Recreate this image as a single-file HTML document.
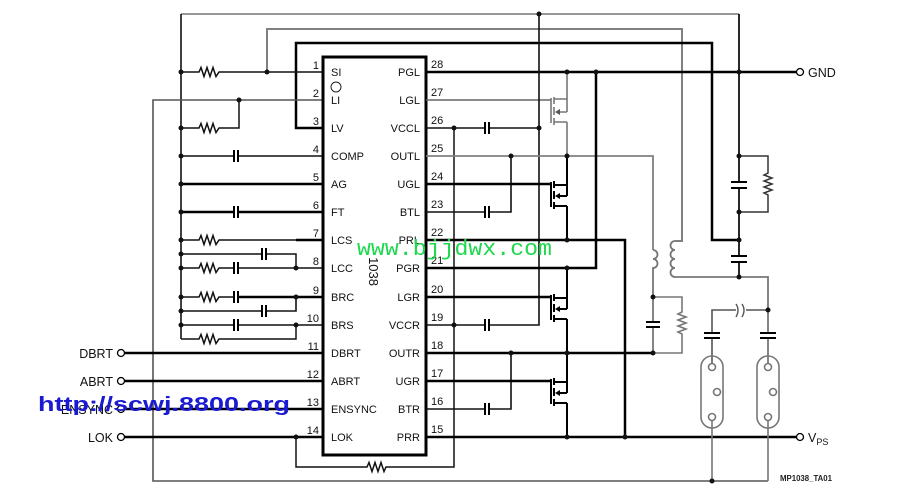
<!DOCTYPE html>
<html><head><meta charset="utf-8"><style>
html,body{margin:0;padding:0;background:#fff;}
svg{display:block;}
</style></head><body>
<svg width="909" height="496" viewBox="0 0 909 496" xmlns="http://www.w3.org/2000/svg" font-family="'Liberation Sans', Arial, sans-serif">
<rect width="909" height="496" fill="#fff"/>
<g fill="none" stroke-linejoin="miter">
<!-- top gray / black loops -->
<path d="M181,14 H739" stroke="#777" stroke-width="1.6"/>
<path d="M267,72 V29 H682 V241 H675" stroke="#808080" stroke-width="2"/>
<path d="M323,128 H296 V43 H712 V240 H739" stroke="#000" stroke-width="2.5"/>
<!-- left bus -->
<path d="M181,14 V339" stroke="#111" stroke-width="1.6"/>
<!-- pin 1 -->
<path d="M181,72 H199 l2,-4.5 l3,9 l3,-9 l3,9 l3,-9 l3,9 l3,-4.5 H323" stroke="#111" stroke-width="1.5"/>
<!-- pin 2 -->
<path d="M323,100 H153 V481 H768" stroke="#555" stroke-width="1.6"/>
<!-- pin 3 -->
<path d="M181,128 H199 l2,-4.5 l3,9 l3,-9 l3,9 l3,-9 l3,9 l3,-4.5 H239 V100" stroke="#111" stroke-width="1.5"/>
<!-- pin 4 -->
<path d="M181,156 H234 M238,156 H323" stroke="#111" stroke-width="1.5"/>
<path d="M234,150 V162 M238,150 V162" stroke="#000" stroke-width="2"/>
<!-- pin 5 -->
<path d="M181,184 H323" stroke="#000" stroke-width="2.5"/>
<!-- pin 6 -->
<path d="M181,212 H234 M238,212 H323" stroke="#000" stroke-width="2.5"/>
<path d="M234,206 V218 M238,206 V218" stroke="#000" stroke-width="2"/>
<!-- pin 7 -->
<path d="M181,240 H199 l2,-4.5 l3,9 l3,-9 l3,9 l3,-9 l3,9 l3,-4.5 H296" stroke="#111" stroke-width="1.5"/>
<path d="M296,240 H323" stroke="#000" stroke-width="2.5"/>
<!-- y254 -->
<path d="M181,254 H262 M266,254 H296 V268" stroke="#111" stroke-width="1.5"/>
<path d="M262,248 V260 M266,248 V260" stroke="#000" stroke-width="2"/>
<!-- pin 8 -->
<path d="M181,268 H199 l2,-4.5 l3,9 l3,-9 l3,9 l3,-9 l3,9 l3,-4.5 H234 M238,268 H323" stroke="#111" stroke-width="1.5"/>
<path d="M234,262 V274 M238,262 V274" stroke="#000" stroke-width="2"/>
<!-- pin 9 -->
<path d="M181,297 H199 l2,-4.5 l3,9 l3,-9 l3,9 l3,-9 l3,9 l3,-4.5 H234" stroke="#111" stroke-width="1.5"/>
<path d="M238,297 H323" stroke="#000" stroke-width="2.5"/>
<path d="M234,291 V303 M238,291 V303" stroke="#000" stroke-width="2"/>
<!-- y311 -->
<path d="M181,311 H262 M266,311 H296 V297" stroke="#111" stroke-width="1.6"/>
<path d="M262,305 V317 M266,305 V317" stroke="#000" stroke-width="2"/>
<!-- pin 10 -->
<path d="M181,325 H234 M238,325 H323" stroke="#111" stroke-width="1.6"/>
<path d="M234,319 V331 M238,319 V331" stroke="#000" stroke-width="2"/>
<!-- y339 -->
<path d="M181,339 H199 l2,-4.5 l3,9 l3,-9 l3,9 l3,-9 l3,9 l3,-4.5 H296 V325" stroke="#111" stroke-width="1.5"/>
<!-- pins 11-14 -->
<path d="M124.5,353 H323 M124.5,381 H323 M124.5,409 H323 M124.5,437 H323" stroke="#000" stroke-width="2.5"/>
<!-- LOK loop -->
<path d="M296,437 V467 H367 l2,-4.5 l3,9 l3,-9 l3,9 l3,-9 l3,9 l2,-4.5 H454 V128" stroke="#111" stroke-width="1.5"/>
<!-- IC -->
<rect x="323" y="57" width="103" height="398" stroke="#000" stroke-width="3"/>
<circle cx="336" cy="87" r="5" stroke="#222" stroke-width="1"/>

<!-- right side -->
<path d="M426,72 H796.5" stroke="#000" stroke-width="2.5"/>
<path d="M426,100 H551" stroke="#666" stroke-width="1.5"/>
<path d="M426,128 H485 M489,128 H539" stroke="#111" stroke-width="1.6"/>
<path d="M485,122 V134 M489,122 V134" stroke="#000" stroke-width="2"/>
<path d="M539,14 V325 H489 M485,325 H426" stroke="#111" stroke-width="1.6"/>
<path d="M485,319 V331 M489,319 V331" stroke="#000" stroke-width="2"/>
<path d="M426,156 H653 V250" stroke="#808080" stroke-width="1.8"/>
<path d="M511,156 V212 H489 M485,212 H426" stroke="#111" stroke-width="1.6"/>
<path d="M485,206 V218 M489,206 V218" stroke="#000" stroke-width="2"/>
<path d="M426,184 H551" stroke="#000" stroke-width="2.5"/>
<path d="M426,240 H625 V437" stroke="#000" stroke-width="2.5"/>
<path d="M426,268 H596 V72" stroke="#000" stroke-width="2.5"/>
<path d="M426,297 H551" stroke="#000" stroke-width="2.5"/>
<path d="M426,353 H653" stroke="#000" stroke-width="2.5"/>
<path d="M511,353 V409 H489 M485,409 H426" stroke="#111" stroke-width="1.6"/>
<path d="M485,403 V415 M489,403 V415" stroke="#000" stroke-width="2"/>
<path d="M426,381 H551" stroke="#000" stroke-width="2.5"/>
<path d="M426,437 H796.5" stroke="#000" stroke-width="2.5"/>

<!-- MOSFETs -->
<g stroke="#777" stroke-width="1.6">
<path d="M551,98 V123 M554,97 V104 M554,107 V115 M554,118 V125 M554,99 H567 M554,122 H567 M567,112 H557 M567,72 V112 M567,122 V156"/>
</g>
<g stroke="#000" stroke-width="2">
<path d="M551,182 V207 M554,181 V188 M554,191 V199 M554,202 V209 M554,185 H567 M554,206 H567 M567,196 H557 M567,156 V196 M567,206 V240"/>
<path d="M551,295 V320 M554,294 V301 M554,304 V312 M554,315 V322 M554,298 H567 M554,319 H567 M567,309 H557 M567,268 V309 M567,319 V353"/>
<path d="M551,379 V404 M554,378 V385 M554,388 V396 M554,399 V406 M554,382 H567 M554,403 H567 M567,393 H557 M567,353 V393 M567,403 V437"/>
</g>

<!-- transformer primary -->
<path d="M653,250 a4.5,4.5 0 0 1 0,9 a4.5,4.5 0 0 1 0,9 V322 M653,327 V353" stroke="#777" stroke-width="1.8"/>
<path d="M646,322 H660 M646,327 H660" stroke="#000" stroke-width="2"/>
<path d="M653,297 H682 V312 l-4,2 l8,3 l-8,3 l8,3 l-8,3 l8,3 l-8,3 l4,2 V353 H653" stroke="#777" stroke-width="1.6"/>
<!-- transformer secondary -->
<path d="M675,241 a4.5,4.5 0 0 0 0,9 a4.5,4.5 0 0 0 0,9 a4.5,4.5 0 0 0 0,9 a4.5,4.5 0 0 0 0,9 H768 V333 M768,338 V363.5" stroke="#777" stroke-width="1.8"/>

<!-- right vertical 739 -->
<path d="M739,14 V182 M739,188 V256 M739,262 V277" stroke="#111" stroke-width="1.8"/>
<path d="M731,182 H747 M731,188 H747 M731,256 H747 M731,262 H747" stroke="#000" stroke-width="2"/>
<path d="M739,156 H768 V173 l-4,2 l8,3 l-8,3 l8,3 l-8,3 l8,3 l-8,3 l4,2 V212 H739" stroke="#333" stroke-width="1.5"/>

<!-- crossover and lamp caps -->
<path d="M768,310 H746 M736,310 H712 V333 M712,338 V363.5" stroke="#555" stroke-width="1.6"/>
<path d="M736,304 q4,6 0,13 M742,304 q4,6 0,13" stroke="#555" stroke-width="1.4"/>
<path d="M704,333 H720 M704,338 H720 M760,333 H776 M760,338 H776" stroke="#000" stroke-width="2"/>

<!-- lamps -->
<g stroke="#777" stroke-width="1.6">
<rect x="701" y="356" width="22" height="72" rx="11"/>
<rect x="757" y="356" width="22" height="72" rx="11"/>
<circle cx="712" cy="367" r="3.5"/><circle cx="717" cy="392" r="3.5"/><circle cx="712" cy="417" r="3.5"/>
<circle cx="768" cy="367" r="3.5"/><circle cx="773" cy="392" r="3.5"/><circle cx="768" cy="417" r="3.5"/>
<path d="M712,420.5 V481 M768,420.5 V481"/>
</g>

<!-- terminals -->
<g stroke="#000" stroke-width="1.3" fill="#fff">
<circle cx="121" cy="353" r="3.5"/><circle cx="121" cy="381" r="3.5"/><circle cx="121" cy="409" r="3.5"/><circle cx="121" cy="437" r="3.5"/>
<circle cx="800" cy="72" r="3.5"/><circle cx="800" cy="437" r="3.5"/>
</g>
</g>

<!-- arrowheads -->
<g fill="#000">
<polygon points="555,196 560,193 560,199"/>
<polygon points="555,309 560,306 560,312"/>
<polygon points="555,393 560,390 560,396"/>
</g>
<polygon points="555,112 560,109 560,115" fill="#555"/>

<!-- dots -->
<g fill="#111">
<circle cx="181" cy="72" r="2.5"/><circle cx="267" cy="72" r="2.5"/><circle cx="181" cy="128" r="2.5"/><circle cx="239" cy="100" r="2.5"/>
<circle cx="181" cy="156" r="2.5"/><circle cx="181" cy="184" r="2.5"/><circle cx="181" cy="212" r="2.5"/><circle cx="181" cy="240" r="2.5"/>
<circle cx="181" cy="254" r="2.5"/><circle cx="181" cy="268" r="2.5"/><circle cx="296" cy="268" r="2.5"/><circle cx="181" cy="297" r="2.5"/>
<circle cx="296" cy="297" r="2.5"/><circle cx="181" cy="311" r="2.5"/><circle cx="181" cy="325" r="2.5"/><circle cx="296" cy="325" r="2.5"/>
<circle cx="296" cy="437" r="2.5"/><circle cx="539" cy="14" r="2.5"/><circle cx="454" cy="128" r="2.5"/><circle cx="539" cy="128" r="2.5"/>
<circle cx="567" cy="72" r="2.5"/><circle cx="596" cy="72" r="2.5"/><circle cx="739" cy="72" r="2.5"/><circle cx="511" cy="156" r="2.5"/>
<circle cx="567" cy="156" r="2.5"/><circle cx="567" cy="240" r="2.5"/><circle cx="567" cy="268" r="2.5"/><circle cx="454" cy="325" r="2.5"/>
<circle cx="511" cy="353" r="2.5"/><circle cx="567" cy="353" r="2.5"/><circle cx="653" cy="353" r="2.5"/><circle cx="567" cy="437" r="2.5"/>
<circle cx="625" cy="437" r="2.5"/><circle cx="739" cy="156" r="2.5"/><circle cx="739" cy="212" r="2.5"/><circle cx="739" cy="240" r="2.5"/>
<circle cx="739" cy="277" r="2.5"/><circle cx="653" cy="297" r="2.5"/><circle cx="768" cy="310" r="2.5"/><circle cx="712" cy="481" r="2.5"/>
</g>

<!-- pin labels -->
<g font-size="11" fill="#111">
<text x="331" y="76">SI</text><text x="331" y="104">LI</text><text x="331" y="132">LV</text><text x="331" y="160">COMP</text>
<text x="331" y="188">AG</text><text x="331" y="216">FT</text><text x="331" y="244">LCS</text><text x="331" y="272">LCC</text>
<text x="331" y="301">BRC</text><text x="331" y="329">BRS</text><text x="331" y="357">DBRT</text><text x="331" y="385">ABRT</text>
<text x="331" y="413">ENSYNC</text><text x="331" y="441">LOK</text>
</g>
<g font-size="11" fill="#111" text-anchor="end">
<text x="420" y="76">PGL</text><text x="420" y="104">LGL</text><text x="420" y="132">VCCL</text><text x="420" y="160">OUTL</text>
<text x="420" y="188">UGL</text><text x="420" y="216">BTL</text><text x="420" y="244">PRL</text><text x="420" y="272">PGR</text>
<text x="420" y="301">LGR</text><text x="420" y="329">VCCR</text><text x="420" y="357">OUTR</text><text x="420" y="385">UGR</text>
<text x="420" y="413">BTR</text><text x="420" y="441">PRR</text>
</g>
<g font-size="11" fill="#111" text-anchor="end">
<text x="319" y="69">1</text><text x="319" y="97">2</text><text x="319" y="125">3</text><text x="319" y="153">4</text>
<text x="319" y="181">5</text><text x="319" y="209">6</text><text x="319" y="237">7</text><text x="319" y="265">8</text>
<text x="319" y="294">9</text><text x="319" y="322">10</text><text x="319" y="350">11</text><text x="319" y="378">12</text>
<text x="319" y="406">13</text><text x="319" y="434">14</text>
</g>
<g font-size="11" fill="#111">
<text x="431" y="68">28</text><text x="431" y="96">27</text><text x="431" y="124">26</text><text x="431" y="152">25</text>
<text x="431" y="180">24</text><text x="431" y="208">23</text><text x="431" y="236">22</text><text x="431" y="264">21</text>
<text x="431" y="293">20</text><text x="431" y="321">19</text><text x="431" y="349">18</text><text x="431" y="377">17</text>
<text x="431" y="405">16</text><text x="431" y="433">15</text>
</g>
<text transform="translate(369,286) rotate(90)" text-anchor="end" font-size="13" fill="#111">1038</text>

<!-- terminal labels -->
<g font-size="12.5" fill="#111" text-anchor="end">
<text x="113" y="358">DBRT</text><text x="113" y="386">ABRT</text><text x="113" y="414">ENSYNC</text><text x="113" y="442">LOK</text>
</g>
<text x="808" y="77" font-size="12.5" fill="#111">GND</text>
<text x="808" y="442" font-size="12.5" fill="#111">V<tspan font-size="9" dy="3">PS</tspan></text>
<text x="780" y="481" font-size="8" font-weight="bold" fill="#222" textLength="52" lengthAdjust="spacingAndGlyphs">MP1038_TA01</text>

<!-- watermarks -->
<text x="357" y="255" font-family="'Liberation Mono', monospace" font-size="22" fill="#1ed84e" textLength="195" lengthAdjust="spacingAndGlyphs">www.bjjdwx.com</text>
<text x="38" y="411" font-size="20" font-weight="bold" fill="#1a1ad2" textLength="252" lengthAdjust="spacingAndGlyphs">http://scwj.8800.org</text>
</svg>
</body></html>
